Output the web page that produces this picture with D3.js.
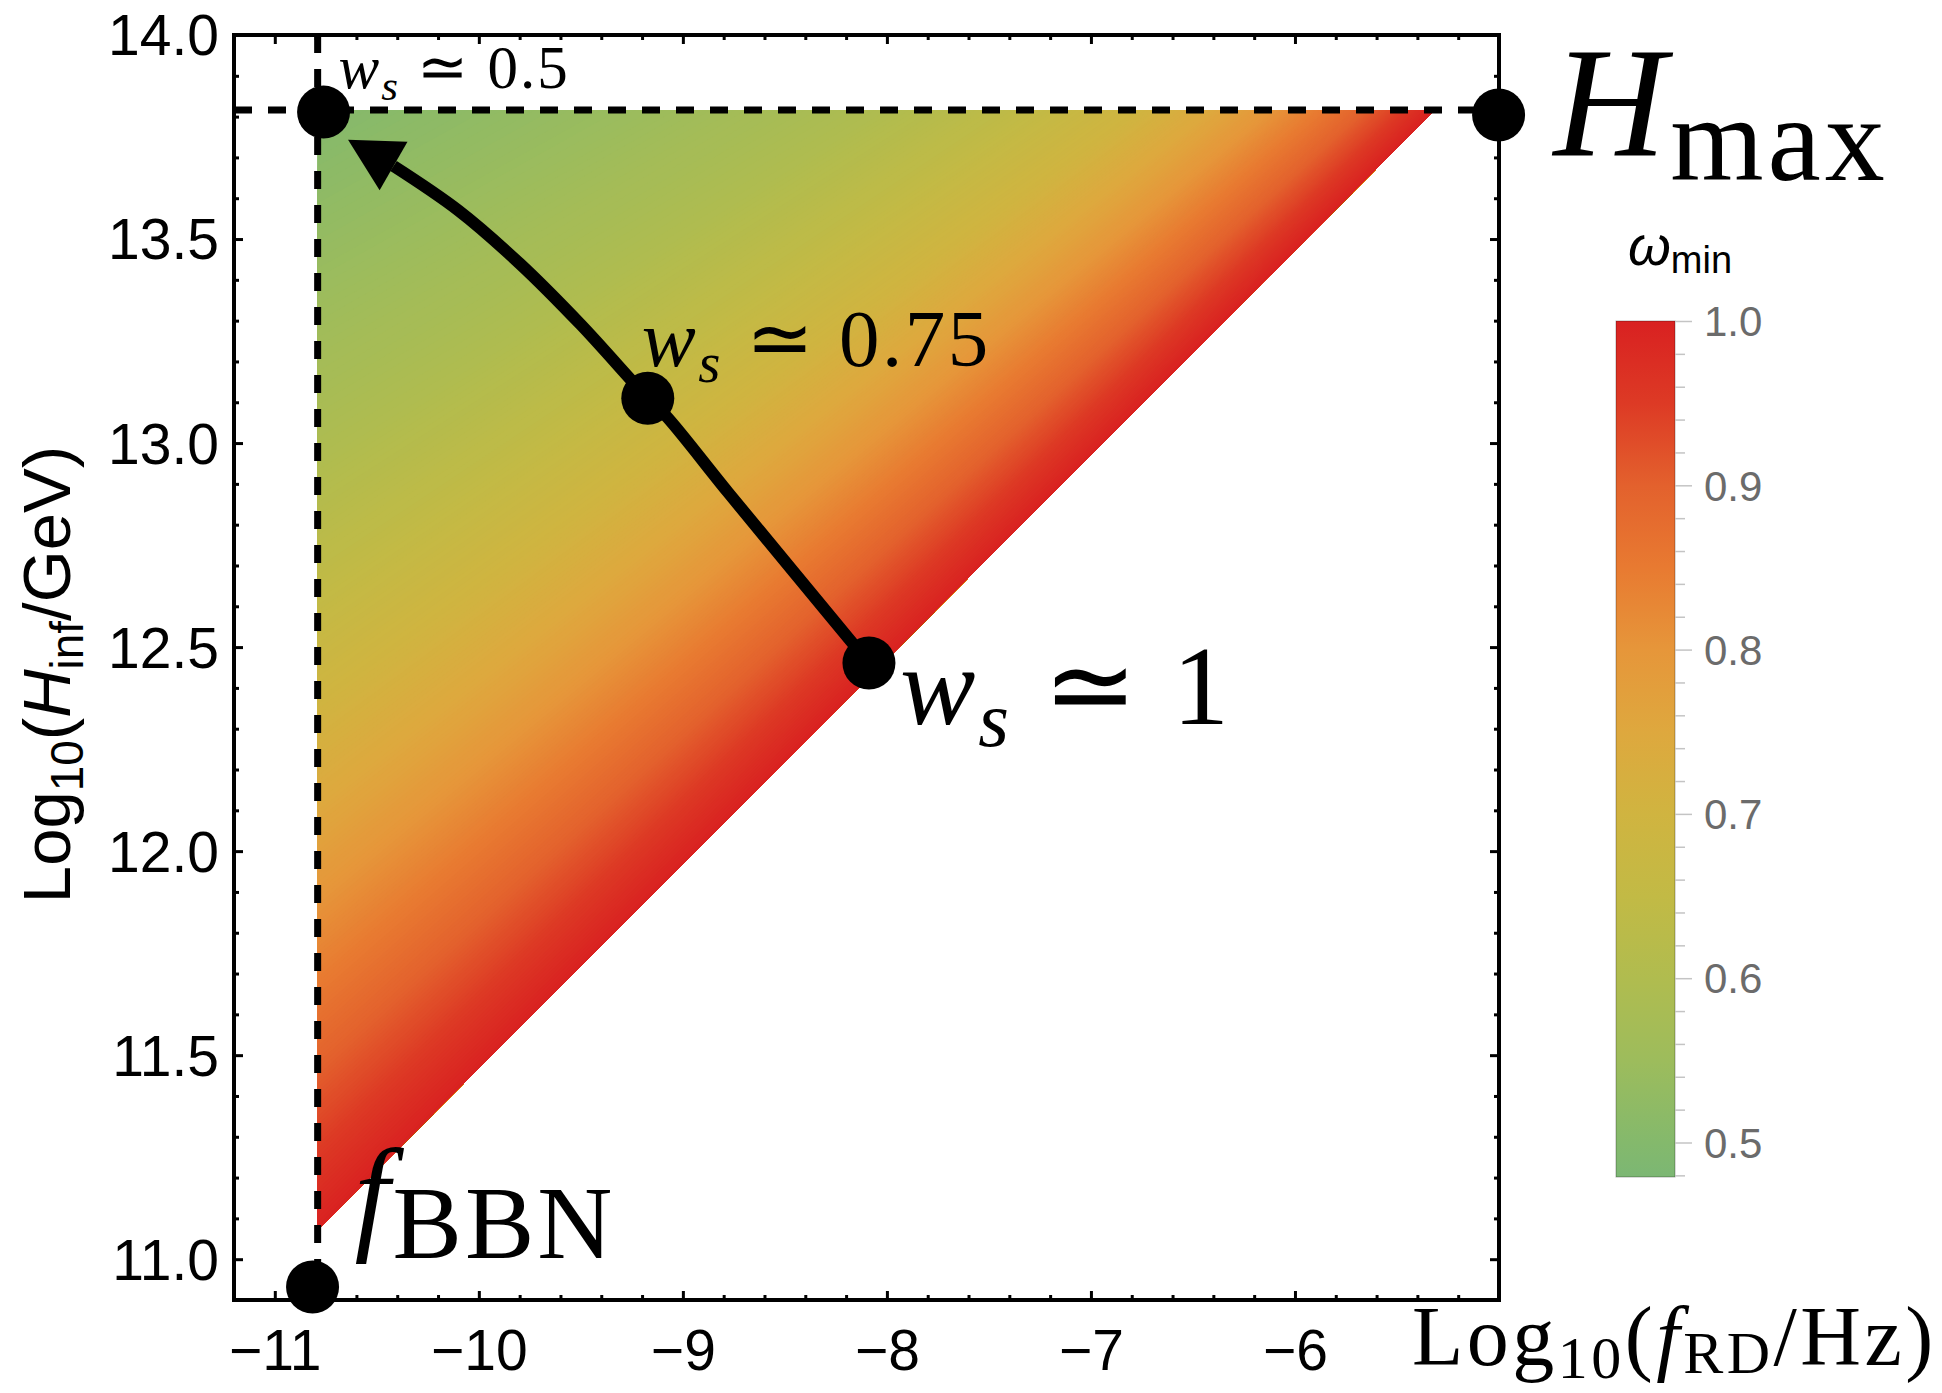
<!DOCTYPE html>
<html>
<head>
<meta charset="utf-8">
<script src="https://cdn.jsdelivr.net/npm/d3@7"></script>
<style>
  html, body { margin: 0; padding: 0; background: #fff; }
  svg { display: block; }
</style>
</head>
<body>
<svg id="chart" width="1942" height="1393"></svg>
<script>
// ---- axis ranges: log10(f_RD / Hz) and log10(H_inf / GeV) ----
const xDomain = [-11.2, -5.0];
const yDomain = [10.9, 14.0];
const xMajorTicks = [-11, -10, -9, -8, -7, -6];
const yMajorTicks = [11.0, 11.5, 12.0, 12.5, 13.0, 13.5, 14.0];

// ---- bounds of the allowed region ----
const fBBN = -10.79;          // log10 f_BBN
const Hmax = 13.816;          // log10 H_max
const fRDatHmax = -5.314;     // w_s = 1 edge meets H_max
const HinfAtBBN = 11.072;     // w_s = 1 edge meets f_BBN

// ---- omega_min contours: crossing of each level with the f_BBN line (log10 H_inf)
//      and with the H_max line (log10 f_RD) ----
const omegaLevels   = [0.50, 0.55, 0.60, 0.65, 0.70, 0.75, 0.80, 0.85, 0.90, 0.95, 1.00];
const contourAtBBN  = [13.816, 13.36, 12.95, 12.63, 12.36, 12.11, 11.89, 11.68, 11.47, 11.27, 11.072];
const contourAtHmax = [-10.79, -9.15, -8.00, -7.28, -6.75, -6.40, -6.12, -5.88, -5.66, -5.48, -5.314];

// ---- colour legend ----
const colorValues = [0.48, 0.50, 0.55, 0.60, 0.65, 0.70, 0.75, 0.80, 0.85, 0.90, 0.95, 1.00];
const colorHex = ["#7cb773", "#84b96c", "#9dbc5c", "#b0bc4f", "#c2ba45", "#d0b440",
                  "#dea83e", "#e6963a", "#e87a31", "#e3612d", "#dd3a25", "#d92121"];
const legendDomain = [0.479, 1.0];
const legendMajor = [0.5, 0.6, 0.7, 0.8, 0.9, 1.0];

// ---- marked points ----
const markerNames = ["ws05", "ws075", "ws1", "Hmax", "fBBN"];
const markerX = [-10.761, -9.172, -8.088, -5.002, -10.815];
const markerY = [13.811, 13.110, 12.461, 13.804, 10.932];

// ---- trajectory from w_s ≃ 1 towards w_s ≃ 0.5 ----
const pathX = [-8.088, -8.45, -8.78, -9.08, -9.172, -9.50, -9.80, -10.10, -10.418];
const pathY = [12.461, 12.68, 12.88, 13.065, 13.11, 13.29, 13.44, 13.57, 13.679];
const arrowTip = [-10.641, 13.743];

// ================= drawing =================
const svg = d3.select("#chart");
svg.append("rect").attr("width", 1942).attr("height", 1393).attr("fill", "#fff");

const plot = { left: 234, right: 1499, top: 35, bottom: 1300 };
const x = d3.scaleLinear().domain(xDomain).range([plot.left, plot.right]);
const y = d3.scaleLinear().domain(yDomain).range([plot.bottom, plot.top]);
const color = d3.scaleLinear().domain(colorValues).range(colorHex).clamp(true);

const defs = svg.append("defs");
defs.append("clipPath").attr("id", "region").append("path")
  .attr("d", `M${x(fBBN)},${y(Hmax)}L${x(fRDatHmax)},${y(Hmax)}L${x(fBBN)},${y(HinfAtBBN)}Z`);

// ---- filled region: omega_min shading between contour lines ----
const atBBN = d3.scaleLinear().domain(omegaLevels).range(contourAtBBN);
const atHmax = d3.scaleLinear().domain(omegaLevels).range(contourAtHmax);
const bandLevels = d3.range(0.5, 1.00001, 0.0025);
const farRight = plot.right + 80, farBottom = plot.bottom + 80;

svg.append("g").attr("clip-path", "url(#region)")
  .selectAll("path").data(bandLevels).join("path")
  .attr("fill", w => color(w))
  .attr("d", w => {
    const ax = x(fBBN), ay = y(atBBN(w));
    const bx = x(atHmax(w)), by = y(Hmax);
    let dx = bx - ax, dy = by - ay;
    const len = Math.hypot(dx, dy);
    if (len < 1e-6) { dx = 0.7071; dy = -0.7071; } else { dx /= len; dy /= len; }
    const A = [ax - 40 * dx, ay - 40 * dy];
    const B = [bx + 40 * dx, by + 40 * dy];
    return `M${A}L${B}L${farRight},${B[1]}L${farRight},${farBottom}L${A[0]},${farBottom}Z`;
  });

// ---- dashed bounds ----
const dashStyle = sel => sel.attr("stroke", "#000").attr("stroke-width", 7)
  .attr("stroke-dasharray", "18,16").attr("fill", "none");
svg.append("line").call(dashStyle)
  .attr("x1", x(fBBN)).attr("x2", x(fBBN))
  .attr("y1", y(yDomain[1])).attr("y2", y(yDomain[0]));
svg.append("line").call(dashStyle)
  .attr("x1", x(xDomain[0])).attr("x2", x(xDomain[1]))
  .attr("y1", y(Hmax)).attr("y2", y(Hmax));

// ---- trajectory with arrow ----
const pathPts = pathX.map((v, i) => [v, pathY[i]]);
svg.append("path")
  .attr("d", d3.line().x(d => x(d[0])).y(d => y(d[1])).curve(d3.curveCatmullRom)(pathPts))
  .attr("fill", "none").attr("stroke", "#000").attr("stroke-width", 12);

{
  const last = pathPts[pathPts.length - 1];
  const bx = x(last[0]), by = y(last[1]);
  const tx = x(arrowTip[0]), ty = y(arrowTip[1]);
  const L = Math.hypot(tx - bx, ty - by);
  const ux = (tx - bx) / L, uy = (ty - by) / L;
  const hw = 28;
  svg.append("path")
    .attr("d", `M${tx},${ty}L${bx - uy * hw},${by + ux * hw}L${bx + uy * hw},${by - ux * hw}Z`)
    .attr("fill", "#000");
}

// ---- frame and ticks ----
const frame = svg.append("g");
const tickStyle = g => {
  g.select(".domain").remove();
  g.selectAll(".tick line").attr("stroke", "#000").attr("stroke-width", 3);
  g.selectAll(".tick text").attr("font-family", "'Liberation Sans', Arial, sans-serif")
    .attr("font-size", 57).attr("fill", "#000");
};
const xMinor = d3.range(-11.2, -5.0, 0.2).map(v => +v.toFixed(1))
  .filter(v => v > xDomain[0] + 1e-6 && !xMajorTicks.includes(v));
const yMinor = d3.range(10.9, 14.0, 0.1).map(v => +v.toFixed(1))
  .filter(v => v > yDomain[0] + 1e-6 && !yMajorTicks.some(t => Math.abs(t - v) < 1e-6));
const fmtX = d3.format("d"), fmtY = d3.format(".1f");

frame.append("g").attr("transform", `translate(0,${plot.bottom})`)
  .call(d3.axisBottom(x).tickValues(xMajorTicks).tickSize(-9).tickPadding(30).tickFormat(fmtX)).call(tickStyle)
  .selectAll(".tick text").attr("dy", "0.71em");
frame.append("g").attr("transform", `translate(0,${plot.bottom})`)
  .call(d3.axisBottom(x).tickValues(xMinor).tickSize(-5).tickFormat("")).call(tickStyle);
frame.append("g").attr("transform", `translate(0,${plot.top})`)
  .call(d3.axisTop(x).tickValues(xMajorTicks).tickSize(-9).tickFormat("")).call(tickStyle);
frame.append("g").attr("transform", `translate(0,${plot.top})`)
  .call(d3.axisTop(x).tickValues(xMinor).tickSize(-5).tickFormat("")).call(tickStyle);
frame.append("g").attr("transform", `translate(${plot.left},0)`)
  .call(d3.axisLeft(y).tickValues(yMajorTicks).tickSize(-9).tickPadding(15).tickFormat(fmtY)).call(tickStyle)
  .selectAll(".tick text").attr("dy", "0.35em");
frame.append("g").attr("transform", `translate(${plot.left},0)`)
  .call(d3.axisLeft(y).tickValues(yMinor).tickSize(-5).tickFormat("")).call(tickStyle);
frame.append("g").attr("transform", `translate(${plot.right},0)`)
  .call(d3.axisRight(y).tickValues(yMajorTicks).tickSize(-9).tickFormat("")).call(tickStyle);
frame.append("g").attr("transform", `translate(${plot.right},0)`)
  .call(d3.axisRight(y).tickValues(yMinor).tickSize(-5).tickFormat("")).call(tickStyle);
frame.append("rect")
  .attr("x", plot.left).attr("y", plot.top)
  .attr("width", plot.right - plot.left).attr("height", plot.bottom - plot.top)
  .attr("fill", "none").attr("stroke", "#000").attr("stroke-width", 4);

// ---- markers ----
svg.append("g").selectAll("circle").data(markerNames).join("circle")
  .attr("cx", (d, i) => x(markerX[i])).attr("cy", (d, i) => y(markerY[i]))
  .attr("r", 26.5).attr("fill", "#000");

// ---- rich text helper ----
function richText(parent, parts, attrs) {
  const t = parent.append("text");
  Object.entries(attrs).forEach(([k, v]) => t.attr(k, v));
  parts.forEach(p => {
    const s = t.append("tspan").text(p.t);
    if (p.size) s.attr("font-size", p.size);
    if (p.italic) s.attr("font-style", "italic");
    if (p.dy) s.attr("dy", p.dy);
    if (p.family) s.attr("font-family", p.family);
  });
  return t;
}
const mx = name => x(markerX[markerNames.indexOf(name)]);
const my = name => y(markerY[markerNames.indexOf(name)]);
const serif = "'Liberation Serif', 'Times New Roman', serif";
const sans = "'Liberation Sans', Arial, sans-serif";
const ann = svg.append("g").attr("font-family", serif).attr("fill", "#000");

richText(ann, [
  { t: "w", italic: true },
  { t: "s", italic: true, size: 43, dy: 12 },
  { t: " \u2243 0.5", dy: -12 }
], { x: mx("ws05") + 15, y: my("ws05") - 24, "font-size": 61, "letter-spacing": 2 });

richText(ann, [
  { t: "w", italic: true },
  { t: "s", italic: true, size: 57, dy: 16 },
  { t: " \u2243 0.75", dy: -16 }
], { x: mx("ws075") - 6, y: my("ws075") - 32, "font-size": 81, "letter-spacing": 2.5 });

richText(ann, [
  { t: "w", italic: true },
  { t: "s", italic: true, size: 79, dy: 22 },
  { t: " \u2243 1", dy: -22 }
], { x: mx("ws1") + 31, y: my("ws1") + 61, "font-size": 113, "letter-spacing": 3 });

richText(ann, [
  { t: "H", italic: true },
  { t: "max", size: 120, dy: 25, }
], { x: mx("Hmax") + 55, y: my("Hmax") + 40, "font-size": 156, "letter-spacing": 4 });

richText(ann, [
  { t: "f", italic: true },
  { t: "BBN", size: 104, dy: 21 }
], { x: mx("fBBN") + 42, y: my("fBBN") - 50, "font-size": 126, "letter-spacing": 3 });

// ---- axis titles ----
richText(ann, [
  { t: "Log" },
  { t: "10", size: 60, dy: 13 },
  { t: "(", dy: -13 },
  { t: "f", italic: true },
  { t: "RD", size: 60, dy: 8 },
  { t: "/Hz)", dy: -8 }
], { x: 1412, y: plot.bottom + 65, "font-size": 84, "letter-spacing": 3.5 });

richText(svg.append("g").attr("font-family", sans).attr("fill", "#000"), [
  { t: "Log" },
  { t: "10", size: 46, dy: 13 },
  { t: "(", dy: -13 },
  { t: "H", italic: true },
  { t: "inf", size: 46, dy: 13 },
  { t: "/GeV)", dy: -13 }
], { "text-anchor": "middle", "font-size": 67,
     transform: `translate(70,${(plot.top + plot.bottom) / 2 + 7}) rotate(-90)` });

// ---- colour bar ----
const cb = { left: 1616, width: 59 };
const cbY = d3.scaleLinear().domain(legendDomain).range([1177, 321]);
const grad = defs.append("linearGradient").attr("id", "cbGrad")
  .attr("x1", 0).attr("y1", 1).attr("x2", 0).attr("y2", 0);
grad.selectAll("stop").data(colorValues).join("stop")
  .attr("offset", v => Math.max(0, (v - legendDomain[0]) / (legendDomain[1] - legendDomain[0])))
  .attr("stop-color", (v, i) => colorHex[i]);

const legend = svg.append("g");
legend.append("rect")
  .attr("x", cb.left).attr("y", cbY(legendDomain[1]))
  .attr("width", cb.width).attr("height", cbY(legendDomain[0]) - cbY(legendDomain[1]))
  .attr("fill", "url(#cbGrad)").attr("stroke", "rgba(0,0,0,0.3)").attr("stroke-width", 1);

const cbMinor = d3.range(0.48, 1.0001, 0.02).map(v => +v.toFixed(2))
  .filter(v => !legendMajor.some(t => Math.abs(t - v) < 1e-6));
legend.append("g").attr("transform", `translate(${cb.left + cb.width},0)`)
  .call(d3.axisRight(cbY).tickValues(legendMajor).tickSize(17).tickPadding(12).tickFormat(d3.format(".1f")))
  .call(g => {
    g.select(".domain").remove();
    g.selectAll(".tick line").attr("stroke", "#c4c4c4").attr("stroke-width", 1.5);
    g.selectAll(".tick text").attr("font-family", sans).attr("font-size", 42)
      .attr("fill", "#6b6b6b").attr("dy", "0.35em");
  });
legend.append("g").attr("transform", `translate(${cb.left + cb.width},0)`)
  .call(d3.axisRight(cbY).tickValues(cbMinor).tickSize(10).tickFormat(""))
  .call(g => {
    g.select(".domain").remove();
    g.selectAll(".tick line").attr("stroke", "#c4c4c4").attr("stroke-width", 1.5);
  });

richText(legend.append("g").attr("font-family", sans).attr("fill", "#000"), [
  { t: "\u03c9", italic: true },
  { t: "min", size: 38, dy: 8 }
], { x: 1628, y: 265, "font-size": 55 });
</script>
</body>
</html>
